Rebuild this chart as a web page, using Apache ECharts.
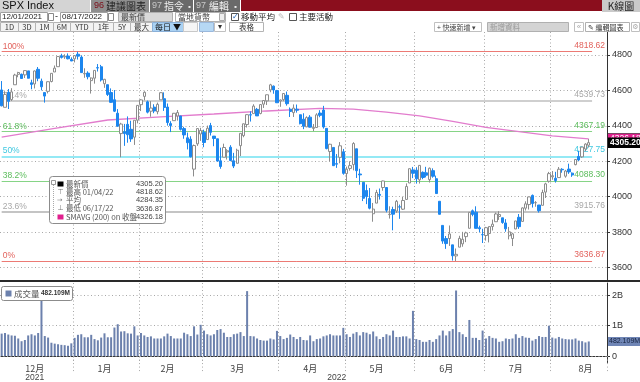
<!DOCTYPE html>
<html><head><meta charset="utf-8">
<script src="https://cdn.jsdelivr.net/npm/echarts/dist/echarts.min.js"></script>
<style>html,body{margin:0;padding:0;background:#fff;overflow:hidden}#c{width:640px;height:382px}</style>
</head><body><div id="c"></div>
<script>
const dates = [
'2021-12-01','2021-12-02','2021-12-03','2021-12-06','2021-12-07','2021-12-08','2021-12-09','2021-12-10','2021-12-13','2021-12-14','2021-12-15','2021-12-16','2021-12-17','2021-12-20','2021-12-21','2021-12-22','2021-12-23','2021-12-27','2021-12-28','2021-12-29','2021-12-30','2021-12-31',
'2022-01-03','2022-01-04','2022-01-05','2022-01-06','2022-01-07','2022-01-10','2022-01-11','2022-01-12','2022-01-13','2022-01-14','2022-01-18','2022-01-19','2022-01-20','2022-01-21','2022-01-24','2022-01-25','2022-01-26','2022-01-27','2022-01-28','2022-01-31',
'2022-02-01','2022-02-02','2022-02-03','2022-02-04','2022-02-07','2022-02-08','2022-02-09','2022-02-10','2022-02-11','2022-02-14','2022-02-15','2022-02-16','2022-02-17','2022-02-18','2022-02-22','2022-02-23','2022-02-24','2022-02-25','2022-02-28',
'2022-03-01','2022-03-02','2022-03-03','2022-03-04','2022-03-07','2022-03-08','2022-03-09','2022-03-10','2022-03-11','2022-03-14','2022-03-15','2022-03-16','2022-03-17','2022-03-18','2022-03-21','2022-03-22','2022-03-23','2022-03-24','2022-03-25','2022-03-28','2022-03-29','2022-03-30','2022-03-31',
'2022-04-01','2022-04-04','2022-04-05','2022-04-06','2022-04-07','2022-04-08','2022-04-11','2022-04-12','2022-04-13','2022-04-14','2022-04-18','2022-04-19','2022-04-20','2022-04-21','2022-04-22','2022-04-25','2022-04-26','2022-04-27','2022-04-28','2022-04-29',
'2022-05-02','2022-05-03','2022-05-04','2022-05-05','2022-05-06','2022-05-09','2022-05-10','2022-05-11','2022-05-12','2022-05-13','2022-05-16','2022-05-17','2022-05-18','2022-05-19','2022-05-20','2022-05-23','2022-05-24','2022-05-25','2022-05-26','2022-05-27','2022-05-31',
'2022-06-01','2022-06-02','2022-06-03','2022-06-06','2022-06-07','2022-06-08','2022-06-09','2022-06-10','2022-06-13','2022-06-14','2022-06-15','2022-06-16','2022-06-17','2022-06-21','2022-06-22','2022-06-23','2022-06-24','2022-06-27','2022-06-28','2022-06-29','2022-06-30',
'2022-07-01','2022-07-05','2022-07-06','2022-07-07','2022-07-08','2022-07-11','2022-07-12','2022-07-13','2022-07-14','2022-07-15','2022-07-18','2022-07-19','2022-07-20','2022-07-21','2022-07-22','2022-07-25','2022-07-26','2022-07-27','2022-07-28','2022-07-29',
'2022-08-01','2022-08-02','2022-08-03','2022-08-04','2022-08-05','2022-08-08','2022-08-09','2022-08-10','2022-08-11','2022-08-12','2022-08-15','2022-08-16'];

const opens = [
4602.82,4504.73,4589.49,4548.37,4631.97,4690.86,4691.00,4687.64,4710.30,4642.99,4636.46,4719.13,4652.50,4587.90,4594.96,4650.36,4703.96,4733.99,4795.49,4788.64,4794.23,4775.21,
4778.14,4804.51,4787.99,4693.39,4697.66,4655.34,4669.14,4728.59,4733.56,4637.99,4632.24,4588.03,4547.35,4471.38,4356.32,4366.64,4408.43,4380.58,4336.19,4431.79,
4519.57,4566.39,4535.41,4482.79,4505.75,4480.02,4547.00,4553.24,4506.27,4412.61,4429.28,4455.75,4456.06,4384.57,4332.74,4324.93,4155.77,4298.38,4354.17,
4363.14,4322.56,4401.31,4342.12,4327.01,4202.66,4223.10,4252.55,4279.50,4202.75,4188.82,4288.14,4345.11,4407.34,4462.40,4469.10,4493.10,4469.98,4522.66,4541.09,4602.86,4624.20,4599.02,
4540.32,4547.97,4572.45,4494.17,4474.65,4494.15,4462.64,4437.59,4394.30,4449.12,4385.63,4390.63,4472.26,4489.17,4385.83,4255.34,4278.14,4186.52,4222.58,4253.75,
4130.61,4159.78,4181.18,4270.43,4128.17,4081.27,4035.18,3990.08,3903.95,3963.90,4013.02,4052.00,4051.98,3899.00,3927.76,3919.42,3942.94,3929.59,3984.60,4077.43,4151.09,
4149.78,4095.41,4137.57,4134.72,4096.47,4147.12,4101.65,3974.39,3838.15,3763.52,3764.05,3728.18,3665.90,3715.31,3733.89,3774.71,3821.75,3920.76,3913.00,3825.09,3785.99,
3781.00,3792.61,3831.98,3858.85,3888.26,3880.94,3851.95,3779.67,3763.99,3818.00,3883.79,3860.73,3935.32,3955.47,4007.36,3965.72,3953.22,3951.43,4026.13,4087.33,
4112.38,4104.21,4107.96,4154.85,4115.87,4155.93,4133.11,4181.02,4227.40,4225.02,4269.37,4290.46];

const highs = [
4652.94,4595.46,4608.03,4612.60,4694.04,4705.06,4695.26,4713.57,4710.30,4660.47,4712.60,4731.99,4666.70,4587.90,4651.14,4697.67,4740.74,4791.49,4807.02,4804.06,4808.93,4786.83,
4796.64,4818.62,4797.70,4725.01,4707.95,4673.02,4714.13,4748.83,4744.13,4665.13,4632.24,4611.55,4602.11,4494.52,4417.35,4411.01,4453.23,4428.74,4432.72,4516.89,
4550.49,4595.31,4542.88,4539.66,4521.86,4531.32,4590.03,4588.92,4526.33,4426.22,4472.77,4489.55,4456.06,4394.60,4362.12,4341.51,4294.73,4385.34,4388.84,
4378.45,4401.48,4416.78,4342.12,4327.01,4276.94,4299.40,4268.28,4291.01,4247.57,4271.05,4357.86,4412.67,4465.40,4481.75,4522.00,4501.07,4520.58,4546.03,4575.65,4637.30,4627.77,4603.07,
4548.70,4583.50,4593.45,4503.94,4521.16,4520.41,4464.35,4471.00,4453.92,4460.46,4410.31,4471.03,4488.29,4512.94,4385.83,4299.02,4278.14,4240.71,4308.45,4269.68,
4169.81,4200.10,4307.66,4270.43,4157.69,4081.27,4068.82,4049.09,3964.80,4038.88,4046.46,4090.72,4051.98,3945.96,3943.42,3981.88,3955.68,3999.33,4075.14,4158.49,4168.34,
4166.54,4177.51,4142.67,4168.78,4164.86,4160.14,4119.10,3974.39,3838.15,3778.18,3837.56,3728.18,3707.71,3779.65,3801.79,3802.58,3913.65,3927.72,3945.86,3836.50,3818.99,
3829.82,3832.19,3870.91,3910.63,3918.50,3880.94,3873.41,3829.44,3796.41,3863.62,3902.44,3939.81,3974.13,3999.29,4012.44,3975.30,3953.22,4039.56,4078.95,4140.15,
4144.95,4140.47,4167.66,4161.29,4151.58,4186.62,4137.30,4211.03,4257.91,4280.47,4301.79,4325.28];

const lows = [
4510.27,4504.73,4495.12,4540.51,4631.97,4674.52,4665.98,4670.24,4667.60,4606.52,4611.22,4651.89,4600.22,4531.10,4583.16,4645.53,4703.96,4733.99,4780.04,4778.08,4775.33,4765.75,
4758.17,4774.27,4699.44,4671.26,4662.74,4582.24,4638.27,4706.71,4650.29,4614.75,4568.70,4530.20,4477.95,4395.34,4222.62,4287.11,4304.80,4309.50,4292.46,4414.02,
4483.53,4544.32,4470.39,4451.50,4471.47,4465.40,4547.00,4484.31,4401.41,4364.84,4429.28,4429.68,4373.81,4327.22,4267.11,4221.51,4114.65,4286.83,4315.12,
4279.54,4322.56,4345.56,4284.98,4199.85,4157.87,4223.10,4209.80,4200.49,4161.72,4187.90,4229.34,4335.65,4390.57,4424.30,4469.10,4455.81,4465.17,4501.07,4517.69,4589.66,4581.32,4530.41,
4507.57,4539.21,4514.17,4450.04,4450.30,4474.60,4408.38,4381.34,4392.70,4390.77,4370.30,4390.63,4448.76,4384.47,4267.62,4200.82,4175.04,4162.90,4188.63,4124.28,
4062.51,4147.08,4148.91,4106.01,4067.91,3975.48,3958.17,3928.82,3858.87,3963.90,3983.99,4033.93,3911.91,3876.58,3810.32,3909.04,3875.13,3925.03,3984.60,4077.43,4104.88,
4073.85,4074.37,4098.67,4109.18,4080.19,4107.20,4017.17,3900.16,3734.30,3705.68,3722.30,3639.77,3636.87,3715.31,3717.69,3743.52,3821.75,3889.66,3820.14,3799.02,3738.67,
3752.10,3742.06,3809.37,3858.85,3869.34,3847.22,3802.36,3759.07,3721.56,3817.18,3818.63,3860.73,3922.03,3927.64,3938.85,3943.46,3910.74,3951.43,3992.97,4079.22,
4096.02,4079.81,4107.96,4135.42,4107.31,4128.97,4112.09,4177.26,4201.41,4219.78,4256.90,4277.77];

const closes = [
4513.04,4577.10,4538.43,4591.67,4686.75,4701.21,4667.45,4712.02,4668.97,4634.09,4709.85,4668.67,4620.64,4568.02,4649.23,4696.56,4725.79,4791.19,4786.35,4793.06,4778.73,4766.18,
4796.56,4793.54,4700.58,4696.05,4677.03,4670.29,4713.07,4726.35,4659.03,4662.85,4577.11,4532.76,4482.73,4397.94,4410.13,4356.45,4349.93,4326.51,4431.85,4515.55,
4546.54,4589.38,4477.44,4500.53,4483.87,4521.54,4587.18,4504.08,4418.64,4401.67,4471.07,4475.01,4380.26,4348.87,4304.76,4225.50,4288.70,4384.65,4373.94,
4306.26,4386.54,4363.49,4328.87,4201.09,4170.70,4277.88,4259.52,4204.31,4173.11,4262.45,4357.86,4411.67,4463.12,4461.18,4511.61,4456.24,4520.16,4543.06,4575.52,4631.60,4602.45,4530.41,
4545.86,4582.64,4525.12,4481.15,4500.21,4488.28,4412.53,4397.45,4446.59,4392.59,4391.69,4462.21,4459.45,4393.66,4271.78,4296.12,4175.20,4183.96,4287.50,4131.93,
4155.38,4175.48,4300.17,4146.87,4123.34,3991.24,4001.05,3935.18,3930.08,4023.89,4008.01,4088.85,3923.68,3900.79,3901.36,3973.75,3941.48,3978.73,4057.84,4158.24,4132.15,
4101.23,4176.82,4108.54,4121.43,4160.68,4115.77,4017.82,3900.86,3749.63,3735.48,3789.99,3666.77,3674.84,3764.79,3759.89,3795.73,3911.74,3900.11,3821.55,3818.83,3785.38,
3825.33,3831.39,3845.08,3902.62,3899.38,3854.43,3818.80,3801.78,3790.38,3863.16,3830.85,3936.69,3959.90,3998.95,3961.63,3966.84,3921.05,4023.61,4072.43,4130.29,
4118.63,4091.19,4155.17,4151.94,4145.19,4140.06,4122.47,4210.24,4207.27,4280.15,4297.14,4305.20];

// volume in millions
const volumesM = [
740,760,710,680,670,580,490,530,680,720,680,760,1840,660,610,440,410,390,370,360,340,420,
600,700,720,620,620,700,560,520,610,750,620,620,940,1050,810,820,750,740,980,680,
760,680,630,650,580,580,580,650,740,660,580,580,580,770,720,660,980,710,1030,
840,720,680,720,860,890,770,630,630,720,740,790,660,2140,660,650,580,530,510,510,580,550,830,
660,560,600,710,630,560,630,530,520,680,490,560,580,650,680,720,680,680,680,930,
720,630,740,790,680,790,770,720,810,650,560,630,720,680,840,630,630,650,650,580,1490,
560,530,470,470,530,470,560,680,840,680,820,890,2160,790,720,630,1190,600,600,530,840,
580,660,600,580,470,490,580,560,580,720,600,660,610,600,510,560,660,630,630,1000,
610,580,630,580,560,550,550,580,510,490,450,482.109];

// 200-day SMA at selected sessions (session index, value)
const smaIdx = [0,16,32,48,64,80,96,106,116,126,136,146,156,166,177];
const smaVal = [4337,4386,4433,4451,4467,4484,4499,4494,4478,4456,4425,4392,4367,4344,4326.18];

const fibPct = ['100%','76.4%','61.8%','50%','38.2%','23.6%','0%'];
const fibVal = [4818.62,4539.73,4367.19,4227.75,4088.30,3915.76,3636.87];

const priceTicks = [3600,3800,4000,4200,4400,4600,4800];
const volTicks = [0,1000,2000];
const monthLabels = ['12月','1月','2月','3月','4月','5月','6月','7月','8月'];
const monthLabelIdx = [10,31,50,71,93,113,134,155,176];
const yearLabels = ['2021','2022'];
const yearLabelIdx = [10,101];

const lastPrice = 4305.20, highPrice = 4818.62, highDate = '01/04/22', avgPrice = 4284.35, lowPrice = 3636.87, lowDate = '06/17/22', smaLast = 4326.18, lastVolM = 482.109;

// ---------- build ----------
const FONT = '"Liberation Sans","Noto Sans CJK TC",sans-serif';
const CJK = '"Noto Sans CJK TC","Liberation Sans",sans-serif';
const padCats = ['p1','p2','p3','p4','p5'];
const cats = dates.concat(padCats);
const candleData = dates.map((d,i)=>[opens[i],closes[i],lows[i],highs[i]]);
const monthStart = new Set();
dates.forEach((d,i)=>{ if(i>0 && d.slice(5,7)!==dates[i-1].slice(5,7)) monthStart.add(i); });
const smaData = smaIdx.map((k,j)=>[k,smaVal[j]]);
const mLabelMap = {}; monthLabelIdx.forEach((k,j)=>mLabelMap[k]=monthLabels[j]);
const yLabelMap = {}; yearLabelIdx.forEach((k,j)=>yLabelMap[k]=yearLabels[j]);

const fibStyle = [
 {c:'#ec7a74',t:'#e2625c',w:1},
 {c:'#cfcfcf',t:'#a8a8a8',w:2},
 {c:'#86d486',t:'#5cbd5c',w:1},
 {c:'#70e2f2',t:'#40c8e0',w:1.6},
 {c:'#86d486',t:'#5cbd5c',w:1},
 {c:'#c4c4c4',t:'#a8a8a8',w:2},
 {c:'#ec7a74',t:'#e2625c',w:1}
];
const DOT = {color:'#a8a8a8',type:[1,2.5],width:1};
const HIDE = {color:'rgba(255,255,255,0)',width:0.01};

const fibLines = [];
priceTicks.forEach(v=>fibLines.push({yAxis:v, lineStyle:DOT, label:{show:false}}));
fibVal.forEach((v,k)=>{
  const s = fibStyle[k];
  fibLines.push([{coord:[cats[0],v], lineStyle:{color:s.c,width:s.w,type:'solid'},
     label:{show:true,position:'insideStartTop',formatter:fibPct[k],color:s.t,fontSize:8.5,fontFamily:FONT,distance:1}},
    {coord:[cats[178],v]}]);
  fibLines.push({yAxis:v, lineStyle:HIDE, label:{show:true,position:'insideEndTop',formatter:v.toFixed(2),color:s.t,fontSize:8.5,fontFamily:FONT,distance:2}});
});

// ---------- toolbar / legend graphics ----------
const G = [];
function R(x,y,w,h,fill,stroke,r){G.push({type:'rect',silent:true,shape:{x:x,y:y,width:w,height:h,r:r||0},style:{fill:fill,stroke:stroke||null,lineWidth:stroke?1:0},z:100});}
function T(x,y,text,o){G.push({type:'text',silent:true,x:x,y:y,z:101,style:Object.assign({text:text,fontSize:9,fill:'#222',fontFamily:CJK,verticalAlign:'middle',align:'left'},o||{})});}

// row 1
R(0,0,90,12,'#d4d4d4'); T(2,6,'SPX Index',{fontSize:11,fontFamily:FONT,fill:'#111'});
R(91,0,58,12,'#8e8e8e'); T(94,6,'96',{fill:'#7c0d18',fontSize:9,fontFamily:FONT}); T(106,6,'建議圖表',{fill:'#222',fontSize:10});
R(150,0,43,12,'#6a6a6a'); T(152,6,'97',{fill:'#c8c8c8',fontSize:9,fontFamily:FONT}); T(164,6,'指令',{fill:'#f2f2f2',fontSize:10}); T(186,6,'▪',{fill:'#eee',fontSize:7});
R(194,0,46,12,'#6a6a6a'); T(196,6,'97',{fill:'#c8c8c8',fontSize:9,fontFamily:FONT}); T(209,6,'編輯',{fill:'#f2f2f2',fontSize:10}); T(232,6,'▪',{fill:'#eee',fontSize:7});
R(241,0,361,11,'#8b0e1d');
R(602,0,38,12,'#cacaca'); T(621,6,'K線圖',{align:'center',fontSize:10,fill:'#222'});
// row 2
R(0.5,12.5,47,9,'#fff','#a0a0a0'); T(2,17,'12/01/2021',{fontSize:8,fontFamily:FONT});
R(48.5,13.5,5,7,'#fff','#888'); T(55,17,'-',{fontFamily:FONT});
R(60.5,12.5,47,9,'#fff','#a0a0a0'); T(62,17,'08/17/2022',{fontSize:8,fontFamily:FONT});
R(108.5,13.5,5,7,'#fff','#888');
R(118.5,12.5,54,9,'#d9d9d9','#b0b0b0'); T(121,17,'最新價',{fill:'#444',fontSize:8});
R(175.5,12.5,50,9,'#fff','#b0b0b0'); T(178,17,'當地貨幣',{fill:'#444',fontSize:8}); R(219.5,13.5,5,7,'#eee','#aaa');
R(231.5,13.5,7,7,'#fff','#555'); T(232,17,'✓',{fontSize:8,fill:'#1b5fb0',fontFamily:'DejaVu Sans'}); T(241,17,'移動平均',{fill:'#222',fontSize:8.5}); T(278,17,'✎',{fill:'#bbb',fontFamily:'DejaVu Sans',fontSize:8});
R(289.5,13.5,7,7,'#fff','#555'); T(299,17,'主要活動',{fill:'#222',fontSize:8.5});
// row 3
[[0,18,'1D'],[18,17,'3D'],[35,18,'1M'],[53,17,'6M'],[70,23,'YTD'],[93,20,'1年'],[113,17,'5Y'],[130,22,'最大']].forEach(b=>{
  R(b[0]+0.5,22.5,b[1],9,'#f3f3f3','#b4b4b4'); T(b[0]+b[1]/2+0.5,27,b[2],{align:'center',fontSize:7.5,fill:'#333'});
});
R(152.5,22.5,31,9,'#a9d1f3','#8ab0d8'); T(168,27,'每日 ▼',{align:'center',fontSize:8,fill:'#111'});
R(183.5,22.5,14,9,'#f6f6f6','#c8c8c8'); R(199.5,22.5,14,9,'#b6d8f4','#9ab8dc');
R(214.5,22.5,11,9,'#fff','#c0c0c0'); T(220,27,'▾',{align:'center',fontSize:8,fill:'#333',fontFamily:'DejaVu Sans'});
R(229.5,22.5,34,9,'#fff','#b4b4b4'); T(246.5,27,'表格',{align:'center',fontSize:7.5,fill:'#333'});
R(434.5,22.5,47,9,'#fff','#c0c0c0'); T(437,27,'+ 快速新增 ▾',{fontSize:7,fill:'#444'});
R(487.5,22.5,81,9,'#d4d4d4','#b0b0b0'); T(490,27,'新增資料',{fontSize:7.5,fill:'#9a9a9a'});
R(574.5,22.5,9,9,'#fff','#c0c0c0'); T(579,27,'«',{align:'center',fontSize:8,fill:'#aaa',fontFamily:FONT});
R(585.5,22.5,44,9,'#fff','#b0b0b0'); T(588,27,'✎ 編輯圖表',{fontSize:7,fill:'#333'});
R(631.5,22.5,8,9,'#fff','#c0c0c0'); T(635.5,27,'⚙',{align:'center',fontSize:7,fill:'#aaa',fontFamily:'DejaVu Sans'});
// panel separator
R(0,280,640,2,'#2a2a2a');
// price legend box
R(49.5,176.5,116,47,'#fff','#8c8c8c',3);
R(51.5,180.5,4,4,'#fff','#999');
G.push({type:'line',silent:true,z:101,shape:{x1:53.5,y1:185,x2:53.5,y2:217},style:{stroke:'#aaa',lineDash:[1,1]}});
R(57.5,181.5,6,5,'#000');
const LF = {fill:'#555',fontSize:7.5};
const VF = {align:'right',fontFamily:FONT,fontSize:7.5,fill:'#444'};
const VX = 163;
T(66,184,'最新價',LF); T(VX,184,lastPrice.toFixed(2),VF);
T(57.5,192,'⊤',{fill:'#777',fontFamily:'DejaVu Sans',fontSize:7}); T(66,192,'最高 '+highDate,LF); T(VX,192,highPrice.toFixed(2),VF);
T(57,200,'→',{fill:'#777',fontFamily:'DejaVu Sans',fontSize:6.5}); T(66,200,'平均',LF); T(VX,200,avgPrice.toFixed(2),VF);
T(57.5,208.5,'⊥',{fill:'#777',fontFamily:'DejaVu Sans',fontSize:7}); T(66,208.5,'最低 '+lowDate,LF); T(VX,208.5,lowPrice.toFixed(2),VF);
R(57.5,214.5,6,5,'#e0208e');
T(66,217,'SMAVG (200) on 收盤',{fill:'#555',fontSize:7.5}); T(VX,217,smaLast.toFixed(2),VF);
// volume legend box
R(1.5,286.5,71,14,'#fff','#8c8c8c',2);
R(5.5,290.5,6,6,'#6c81ad');
T(14,293.5,'成交量',{fill:'#555',fontSize:8.5}); T(41,293.5,lastVolM.toFixed(3)+'M',{fill:'#333',fontSize:6.5,fontFamily:FONT,fontWeight:'bold'});

const gridLeft = -1.6, gridW = 608.6;
const option = {
  animation:false,
  backgroundColor:'#fff',
  grid:[{left:gridLeft,width:gridW,top:32,height:248},{left:gridLeft,width:gridW,top:283,height:83}],
  xAxis:[
    {type:'category',gridIndex:0,data:cats,boundaryGap:true,axisLine:{show:false},axisTick:{show:false},axisLabel:{show:false},
     splitLine:{show:true,interval:(i)=>monthStart.has(i),lineStyle:DOT}},
    {type:'category',gridIndex:1,data:cats,boundaryGap:true,axisLine:{show:true,lineStyle:{color:'#333',width:1}},
     axisTick:{show:true,interval:(i)=>monthStart.has(i),length:16,lineStyle:DOT},
     axisLabel:{show:true,interval:(i)=>mLabelMap[i]!==undefined,formatter:(v,i)=>mLabelMap[i]||'',fontSize:9,color:'#444',fontFamily:CJK,margin:2},
     splitLine:{show:true,interval:(i)=>monthStart.has(i),lineStyle:DOT}},
    {type:'category',gridIndex:1,data:cats,boundaryGap:true,position:'bottom',offset:9,axisLine:{show:false},axisTick:{show:false},
     axisLabel:{show:true,interval:(i)=>yLabelMap[i]!==undefined,formatter:(v,i)=>yLabelMap[i]||'',fontSize:8.5,color:'#444',fontFamily:FONT,margin:2},
     splitLine:{show:false}}
  ],
  yAxis:[
    {type:'value',gridIndex:0,position:'right',min:3529.9,max:4929.8,
     axisLine:{show:true,lineStyle:{color:'#333',width:1}},
     axisTick:{show:true,length:3,customValues:priceTicks,lineStyle:{color:'#333'}},
     axisLabel:{show:true,customValues:priceTicks,formatter:(v)=>String(v),fontSize:9,color:'#333',fontFamily:FONT,margin:5},
     splitLine:{show:false}},
    {type:'value',gridIndex:1,position:'right',min:-211,max:2407,
     axisLine:{show:true,lineStyle:{color:'#333',width:1}},
     axisTick:{show:true,length:3,customValues:volTicks,lineStyle:{color:'#333'}},
     axisLabel:{show:true,customValues:volTicks,formatter:(v)=>v===0?'0':(v/1000)+'B',fontSize:9,color:'#333',fontFamily:FONT,margin:5},
     splitLine:{show:false}}
  ],
  series:[
    {type:'line',name:'fib',xAxisIndex:0,yAxisIndex:0,data:[],z:1,
     markLine:{silent:true,symbol:'none',z:1,animation:false,data:fibLines}},
    {type:'line',name:'SMAVG (200)',xAxisIndex:0,yAxisIndex:0,data:smaData,showSymbol:false,symbol:'none',z:2,
     lineStyle:{color:'#e27ccd',width:1.3}},
    {type:'candlestick',name:'SPX',xAxisIndex:0,yAxisIndex:0,data:candleData,barWidth:2.8,z:3,
     itemStyle:{color:'#ffffff',color0:'#1c86ee',borderColor:'#8c8c8c',borderColor0:'#1c86ee',borderWidth:1},
     markLine:{silent:true,symbol:'none',z:10,animation:false,data:[
       {yAxis:smaLast,lineStyle:HIDE,label:{show:true,position:'end',distance:1,formatter:smaLast.toFixed(2),backgroundColor:'#e0208e',color:'#fff',fontSize:8.5,fontFamily:FONT,padding:[1,2],borderColor:'#333',borderWidth:0.5}},
       {yAxis:lastPrice,lineStyle:HIDE,label:{show:true,position:'end',distance:1,formatter:lastPrice.toFixed(2),backgroundColor:'#000',color:'#fff',fontSize:8.5,fontWeight:'bold',fontFamily:FONT,padding:[1,2]}}
     ]}},
    {type:'bar',name:'成交量',xAxisIndex:1,yAxisIndex:1,data:volumesM,barWidth:2,z:3,
     itemStyle:{color:'#6c81ad'},
     markLine:{silent:true,symbol:'none',z:1,animation:false,data:[
       {yAxis:0,lineStyle:DOT,label:{show:false}},
       {yAxis:1000,lineStyle:DOT,label:{show:false}},
       {yAxis:2000,lineStyle:DOT,label:{show:false}},
       {yAxis:lastVolM,lineStyle:HIDE,label:{show:true,position:'end',distance:1,formatter:lastVolM.toFixed(3)+'M',backgroundColor:'#7086b6',color:'#15223f',fontSize:7,fontFamily:FONT,padding:[1,1]}}
     ]}}
  ],
  graphic:{elements:G}
};
const chart = echarts.init(document.getElementById('c'),null,{renderer:'canvas'});
chart.setOption(option);
</script></body></html>
